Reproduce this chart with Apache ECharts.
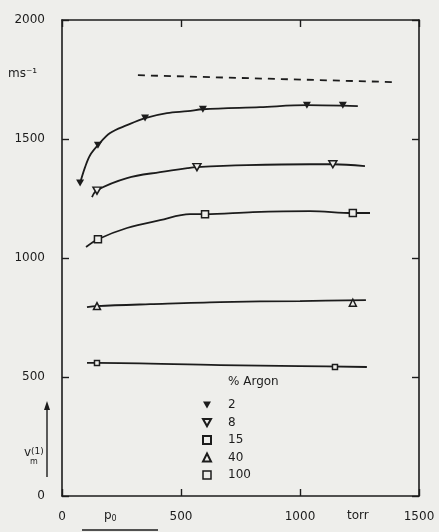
<!DOCTYPE html>
<html>
<head>
<meta charset="utf-8">
<script src="https://cdn.jsdelivr.net/npm/echarts@6/dist/echarts.min.js"></script>
<style>
html,body{margin:0;padding:0;background:#eeeeeb;}
#chart{width:439px;height:532px;}
</style>
</head>
<body>
<div id="chart"></div>
<script>
// ---- data (pressure in torr, velocity in m/s) ----
const xTicks = [0, 500, 1000, 1500];
const yTicks = [0, 500, 1000, 1500, 2000];
const argonLabels = ['2', '8', '15', '40', '100'];

const curve2 = [[76,1315],[97,1382],[118,1432],[151,1474],[202,1525],[273,1558],[349,1588],[441,1609],[529,1617],[592,1625],[832,1634],[1029,1642],[1243,1638]];
const curve8 = [[126,1256],[147,1285],[273,1336],[412,1361],[529,1378],[567,1382],[777,1390],[1042,1394],[1138,1394],[1273,1386]];
const curve15 = [[101,1046],[151,1079],[273,1126],[412,1159],[538,1184],[601,1184],[802,1193],[1042,1197],[1222,1189],[1294,1189]];
const curve40 = [[105,794],[147,798],[370,806],[664,815],[1000,819],[1277,823]];
const curve100 = [[105,559],[147,559],[664,550],[1000,546],[1281,542]];
const dashedLimit = [[319,1768],[1399,1739]];

const marks2 = [[76,1315],[151,1474],[349,1588],[592,1625],[1029,1642],[1180,1642]];
const marks8 = [[147,1283],[567,1382],[1138,1394]];
const marks15 = [[151,1079],[601,1184],[1222,1189]];
const marks40 = [[147,798],[1222,812]];
const marks100 = [[147,559],[1147,542]];

// ---- styling ----
const INK = '#1c1c1c';
const BG = '#eeeeeb';
const FONT = 'DejaVu Sans';
const DOWN_TRI = 'path://M0,0 L10,0 L5,9 Z';

const chart = echarts.init(document.getElementById('chart'), null, {renderer: 'canvas'});

function curve(name, data) {
  return {
    name: name, type: 'line', data: data, smooth: 0.35, showSymbol: false, symbol: 'none',
    lineStyle: {color: INK, width: 1.8}, silent: true, z: 2
  };
}
function marks(name, data, symbol, size, filled) {
  return {
    name: name, type: 'scatter', data: data, symbol: symbol, symbolSize: size,
    itemStyle: {color: filled ? INK : BG, borderColor: INK, borderWidth: filled ? 0 : 1.5, opacity: 1},
    z: 3
  };
}
const tickStyle = {show: true, inside: true, length: 7, lineStyle: {color: INK, width: 1.4}};
const lineStyle = {show: true, onZero: false, lineStyle: {color: INK, width: 1.6}};
const plain = v => String(v);

const option = {
  backgroundColor: BG,
  animation: false,
  textStyle: {fontFamily: FONT, color: INK},
  grid: {left: 62, right: 20, top: 20, bottom: 36},
  xAxis: [{
    type: 'value', min: xTicks[0], max: xTicks[xTicks.length - 1], interval: 500,
    axisLine: lineStyle, axisTick: tickStyle,
    axisLabel: {color: INK, fontSize: 12, fontFamily: FONT, margin: 15, formatter: plain},
    splitLine: {show: false}
  }, {
    type: 'value', position: 'top', min: 0, max: 1500, interval: 500,
    axisLine: lineStyle, axisTick: tickStyle,
    axisLabel: {show: false}, splitLine: {show: false}
  }],
  yAxis: [{
    type: 'value', min: yTicks[0], max: yTicks[yTicks.length - 1], interval: 500,
    axisLine: lineStyle, axisTick: tickStyle,
    axisLabel: {color: INK, fontSize: 12, fontFamily: FONT, margin: 17, formatter: plain},
    splitLine: {show: false}
  }, {
    type: 'value', position: 'right', min: 0, max: 2000, interval: 500,
    axisLine: lineStyle, axisTick: tickStyle,
    axisLabel: {show: false}, splitLine: {show: false}
  }],
  legend: {
    data: [
      {name: '2', icon: DOWN_TRI},
      {name: '8', icon: DOWN_TRI},
      {name: '15', icon: 'rect'},
      {name: '40', icon: 'triangle'},
      {name: '100', icon: 'rect', itemStyle: {borderWidth: 1.5}}
    ],
    orient: 'vertical', left: 197, top: 394,
    itemWidth: 8, itemHeight: 8, itemGap: 5.5,
    textStyle: {color: INK, fontSize: 12, fontFamily: FONT, padding: [0, 0, 0, 12]},
    selectedMode: false
  },
  series: [
    curve('c2', curve2),
    curve('c8', curve8),
    curve('c15', curve15),
    curve('c40', curve40),
    curve('c100', curve100),
    {name: 'limit', type: 'line', data: dashedLimit, showSymbol: false, symbol: 'none',
     lineStyle: {color: INK, width: 1.8, type: [7, 6]}, silent: true},
    marks('2', marks2, DOWN_TRI, [8, 7], true),
    marks('8', marks8, DOWN_TRI, [8, 7], false),
    marks('15', marks15, 'rect', 7, false),
    marks('40', marks40, 'triangle', 7, false),
    marks('100', marks100, 'rect', 5, false)
  ],
  graphic: [
    {type: 'text', left: 8, top: 68, style: {text: 'ms⁻¹', fill: INK, font: '12px "DejaVu Sans"'}},
    {type: 'text', left: 228, top: 376, style: {text: '% Argon', fill: INK, font: '12px "DejaVu Sans"'}},
    {type: 'text', left: 24, top: 447, style: {
      text: '{v|v}{s|(1)}', fill: INK,
      rich: {v: {fontSize: 12, fontFamily: FONT, fill: INK, verticalAlign: 'bottom'},
             s: {fontSize: 9, fontFamily: FONT, fill: INK, verticalAlign: 'top'}}
    }},
    {type: 'text', left: 30, top: 458, style: {text: 'm', fill: INK, font: '8px "DejaVu Sans"'}},
    {type: 'line', shape: {x1: 47, y1: 477, x2: 47, y2: 408}, style: {stroke: INK, lineWidth: 1.4}},
    {type: 'polygon', shape: {points: [[47, 401], [44, 410], [50, 410]]}, style: {fill: INK}},
    {type: 'text', left: 104, top: 510, style: {
      text: '{p|p}{o|0}', fill: INK,
      rich: {p: {fontSize: 12, fontFamily: FONT, fill: INK},
             o: {fontSize: 8, fontFamily: FONT, fill: INK, verticalAlign: 'bottom', padding: [6, 0, 0, 0]}}
    }},
    {type: 'line', shape: {x1: 82, y1: 530, x2: 158, y2: 530}, style: {stroke: INK, lineWidth: 1.4}},
    {type: 'text', left: 347, top: 510, style: {text: 'torr', fill: INK, font: '12px "DejaVu Sans"'}}
  ]
};
chart.setOption(option);
</script>
</body>
</html>
